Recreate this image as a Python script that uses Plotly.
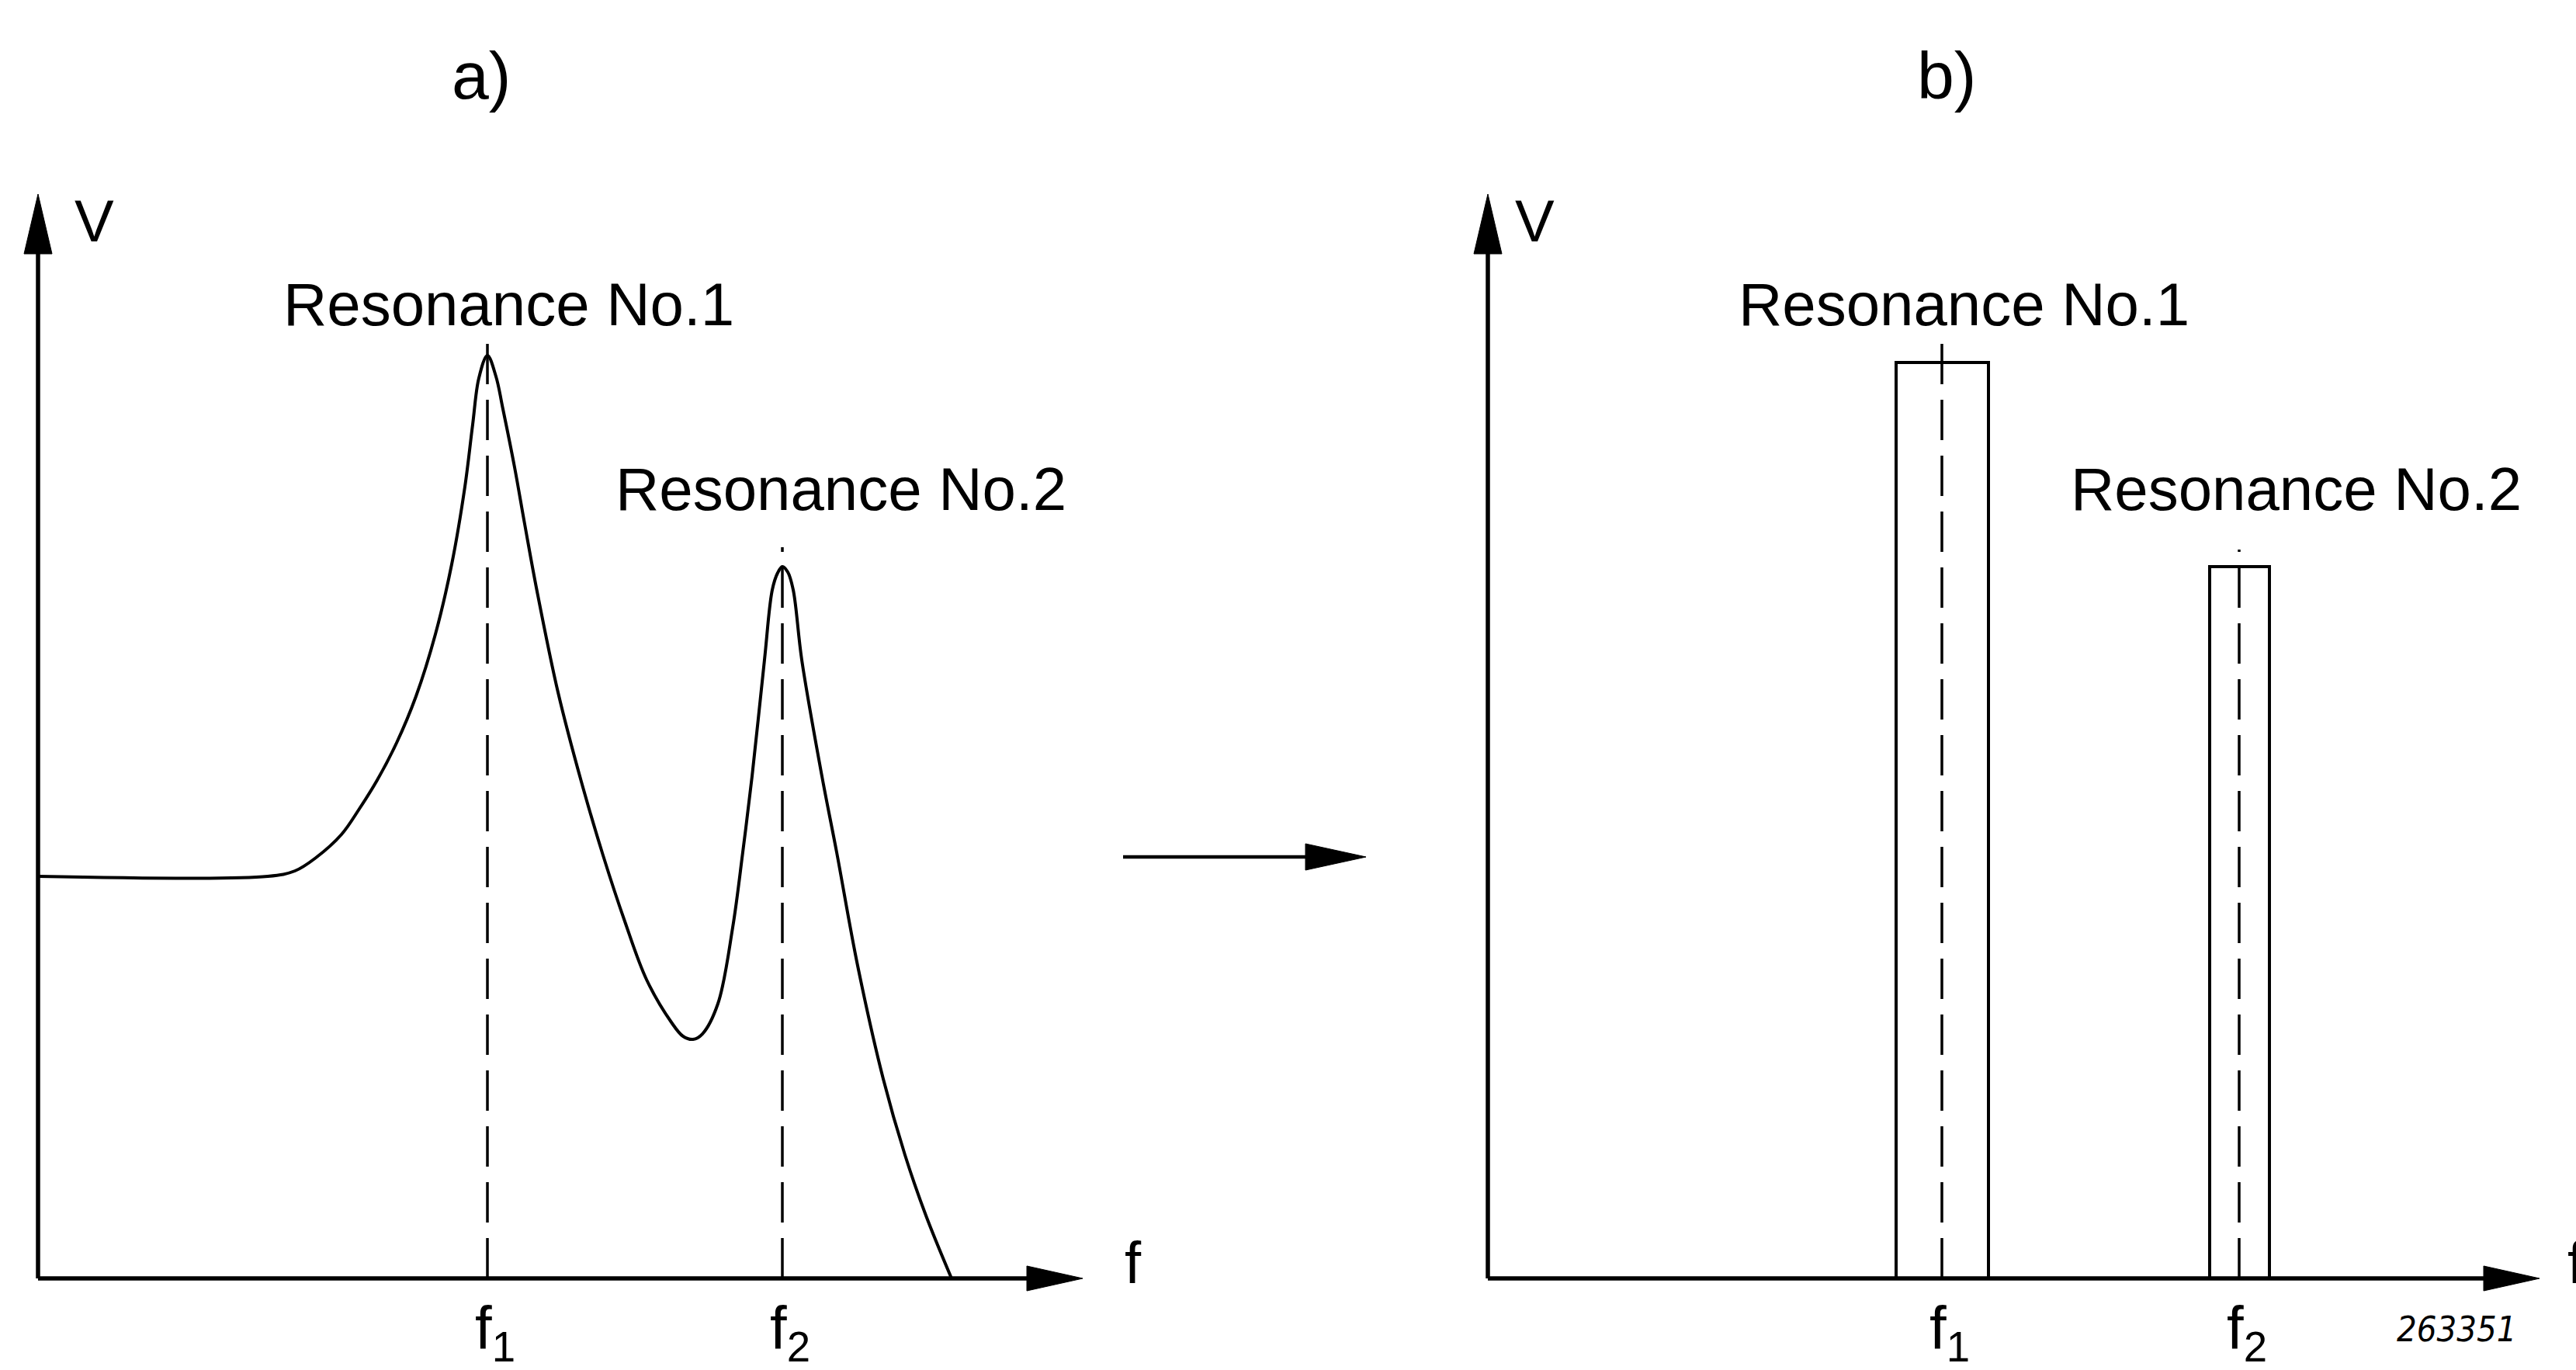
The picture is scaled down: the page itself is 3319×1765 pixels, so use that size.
import plotly.graph_objects as go

W, H = 3319, 1765

# ---------------------------------------------------------------- data
# a) measured frequency response (frequency, amplitude V), arbitrary units
freq_a = [0.00, 2.96, 3.31, 3.58, 3.91, 4.14, 4.37, 4.62, 4.87, 5.12, 5.33,
          5.50, 5.60, 5.68, 5.79, 5.90, 5.99, 6.14, 6.27, 6.43, 6.70, 7.00,
          7.28, 7.56, 7.84, 8.16, 8.31, 8.44, 8.56, 8.76, 8.95, 9.08, 9.20,
          9.36, 9.46, 9.53, 9.59, 9.66, 9.73, 9.84, 10.10, 10.29, 10.56,
          10.89, 11.17, 11.44, 11.77]
volt_a = [5.18, 5.18, 5.25, 5.42, 5.72, 6.05, 6.42, 6.90, 7.50, 8.30, 9.20,
          10.20, 11.00, 11.60, 11.89, 11.62, 11.20, 10.45, 9.72, 8.85, 7.55,
          6.40, 5.45, 4.60, 3.85, 3.30, 3.12, 3.08, 3.15, 3.54, 4.52, 5.49,
          6.47, 7.97, 8.87, 9.09, 9.17, 9.10, 8.87, 7.97, 6.47, 5.49, 4.03,
          2.57, 1.59, 0.81, 0.00]

# resonance markers in a): frequency and top of the dashed guide
res_freq_a = [5.79, 9.59]
res_guide_a = [12.06, 9.42]

# b) idealised resonances: centre, amplitude, band width, dashed guide top
res_freq_b = [5.85, 9.68]
res_volt_b = [11.80, 9.17]
res_width_b = [1.19, 0.77]
res_guide_b = [12.12, 9.39]

res_names = ["Resonance No.1", "Resonance No.2"]
tick_names = ["f<sub>1</sub>", "f<sub>2</sub>"]
panel_titles = ["a)", "b)"]
axis_x_name = "f"
axis_y_name = "V"
figure_code = "263351"

# ---------------------------------------------------------------- layout helpers
FONT = "Liberation Sans, Arial, sans-serif"
INK = "#000000"

X_MAX = {"x": 13.46, "x2": 13.55}   # arrow tips of the frequency axes
Y_MAX = 13.97                         # arrow tip of the V axes
HEAD_L, HEAD_HW = 0.72, 0.16          # arrow head length / half width
DASH = "52px,20px"


def px(x):
    return x / W


def py(y):
    return 1 - y / H


fig = go.Figure()

# a) response curve
fig.add_trace(go.Scatter(
    x=freq_a, y=volt_a, mode="lines", xaxis="x", yaxis="y",
    line=dict(color=INK, width=4, shape="spline", smoothing=1.0),
    hoverinfo="skip", showlegend=False))

# a) dashed guides at the resonance frequencies
for f, top in zip(res_freq_a, res_guide_a):
    fig.add_trace(go.Scatter(
        x=[f, f], y=[0, top], mode="lines", xaxis="x", yaxis="y",
        line=dict(color=INK, width=3.5, dash=DASH),
        hoverinfo="skip", showlegend=False))

# b) resonance bands
fig.add_trace(go.Bar(
    x=res_freq_b, y=res_volt_b, width=res_width_b, xaxis="x2", yaxis="y2",
    marker=dict(color="white", line=dict(color=INK, width=4)),
    hoverinfo="skip", showlegend=False))

for f, top in zip(res_freq_b, res_guide_b):
    fig.add_trace(go.Scatter(
        x=[f, f], y=[0, top], mode="lines", xaxis="x2", yaxis="y2",
        line=dict(color=INK, width=3.5, dash=DASH),
        hoverinfo="skip", showlegend=False))

# ---------------------------------------------------------------- axes with arrows
shapes = []
for xr, yr in (("x", "y"), ("x2", "y2")):
    xm = X_MAX[xr]
    shapes += [
        dict(type="line", xref=xr, yref=yr, x0=0, y0=0, x1=xm - HEAD_L + 0.05, y1=0,
             line=dict(color=INK, width=5.5)),
        dict(type="line", xref=xr, yref=yr, x0=0, y0=0, x1=0, y1=Y_MAX - HEAD_L + 0.05,
             line=dict(color=INK, width=5.5)),
        dict(type="path", xref=xr, yref=yr, fillcolor=INK, line=dict(color=INK, width=1),
             path=f"M {xm - HEAD_L},{-HEAD_HW} L {xm},0 L {xm - HEAD_L},{HEAD_HW} Z"),
        dict(type="path", xref=xr, yref=yr, fillcolor=INK, line=dict(color=INK, width=1),
             path=f"M {-HEAD_HW - 0.02},{Y_MAX - HEAD_L - 0.05} L 0,{Y_MAX} "
                  f"L {HEAD_HW + 0.02},{Y_MAX - HEAD_L - 0.05} Z"),
    ]

# transition arrow between the two panels
shapes += [
    dict(type="line", xref="paper", yref="paper", x0=px(1447), y0=py(1104),
         x1=px(1690), y1=py(1104), line=dict(color=INK, width=4.5)),
    dict(type="path", xref="paper", yref="paper", fillcolor=INK, line=dict(color=INK, width=1),
         path=f"M {px(1682)},{py(1087)} L {px(1760)},{py(1104)} L {px(1682)},{py(1121)} Z"),
]

# ---------------------------------------------------------------- text
ann = []


def label(text, x, y, xref, yref, size, family=FONT, **kw):
    opts = dict(xanchor="center", yanchor="middle")
    opts.update(kw)
    ann.append(dict(text=text, x=x, y=y, xref=xref, yref=yref, showarrow=False,
                    font=dict(family=family, size=size, color=INK), **opts))


label(panel_titles[0], px(620), py(97), "paper", "paper", 86)
label(panel_titles[1], px(2508), py(97), "paper", "paper", 86)

# axis names
label(axis_y_name, 0.72, 13.62, "x", "y", 76)
label(axis_y_name, 0.60, 13.62, "x2", "y2", 76)
label(axis_x_name, px(1460), py(1626), "paper", "paper", 76)
label(axis_x_name, px(3306), py(1626), "paper", "paper", 76, xanchor="left")

# resonance names
label(res_names[0], 6.06, 12.55, "x", "y", 78)
label(res_names[1], 10.34, 10.17, "x", "y", 78)
label(res_names[0], 6.13, 12.55, "x2", "y2", 78)
label(res_names[1], 10.41, 10.17, "x2", "y2", 78)

# tick labels under the frequency axes
for f, t in zip(res_freq_a, tick_names):
    label(t, f, 0, "x", "y", 78, yanchor="top", yshift=-18, xshift=10)
for f, t in zip(res_freq_b, tick_names):
    label(t, f, 0, "x2", "y2", 78, yanchor="top", yshift=-18, xshift=10)

label(f"<i>{figure_code}</i>", px(3165), py(1712), "paper", "paper", 45,
      family="DejaVu Sans Condensed, Liberation Sans Narrow, Liberation Sans")

# ---------------------------------------------------------------- axes geometry
hidden = dict(visible=False, showgrid=False, zeroline=False, fixedrange=True)
fig.update_layout(
    width=W, height=H,
    margin=dict(l=0, r=0, t=0, b=0, pad=0),
    paper_bgcolor="white", plot_bgcolor="white",
    showlegend=False, bargap=0,
    xaxis=dict(hidden, domain=[px(0), px(1409)], range=[-0.49, 13.60]),
    yaxis=dict(hidden, domain=[py(1677), py(237)], range=[-0.30, 14.10]),
    xaxis2=dict(hidden, domain=[px(1867), px(3277)], range=[-0.50, 13.60]),
    yaxis2=dict(hidden, domain=[py(1677), py(237)], range=[-0.30, 14.10], anchor="x2"),
    shapes=shapes,
    annotations=ann,
)

fig.write_html("out.html")
